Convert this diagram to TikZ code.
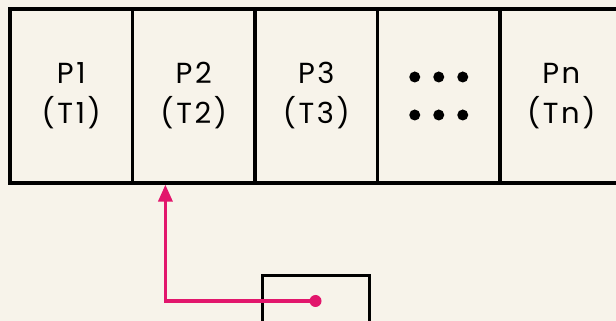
\documentclass[tikz,border=0pt]{standalone}
\usepackage{fontspec}
\newfontfamily\cellfont[LetterSpace=9]{Poppins}
\usepackage{tikz}
\usetikzlibrary{shapes, arrows.meta, positioning, calc}

\definecolor{paper}{RGB}{247,243,234}
\definecolor{penpink}{RGB}{226,22,108}

\begin{document}
\begin{tikzpicture}[x=1pt, y=1pt,
		cell/.style={draw, line width=3.2pt, minimum width=122.5pt, minimum height=174pt, inner sep=0pt, align=center, font=\cellfont\fontsize{29}{40}\selectfont},
		regbox/.style={draw, line width=3pt, minimum width=107pt, minimum height=60pt, inner sep=0pt},
		ptr/.style={penpink, line width=3.4pt, -{Triangle[length=17pt, width=14pt]}}]
		\fill[paper] (0,0) rectangle (616,321);
		\clip (0,0) rectangle (616,321);
		\foreach \i/\t in {
			1/{P1\\(T1)},
			2/{P2\\(T2)},
			3/{P3\\(T3)},
			4/{},
			5/{Pn\\(Tn)}}{
			\node[cell] (c\i) at (10+\i*122.5-61.25, 225) {\t};
		}
		% dots in the fourth cell
		\foreach \dx in {-1,0,1} {
			\foreach \dy in {1,-1} {
				\fill ($(c4.center)+(\dx*24, \dy*19)$) circle (5.5);
			}
		}
		\node[regbox] (reg) at (315.5, 15) {};
		\coordinate (tail) at ($(reg.center)+(0,5)$);
		\fill[penpink] (tail) circle (6);
		\draw[ptr] (tail) -| ($(c2.south west)+(34.5,0)$);
	\end{tikzpicture}
\end{document}
